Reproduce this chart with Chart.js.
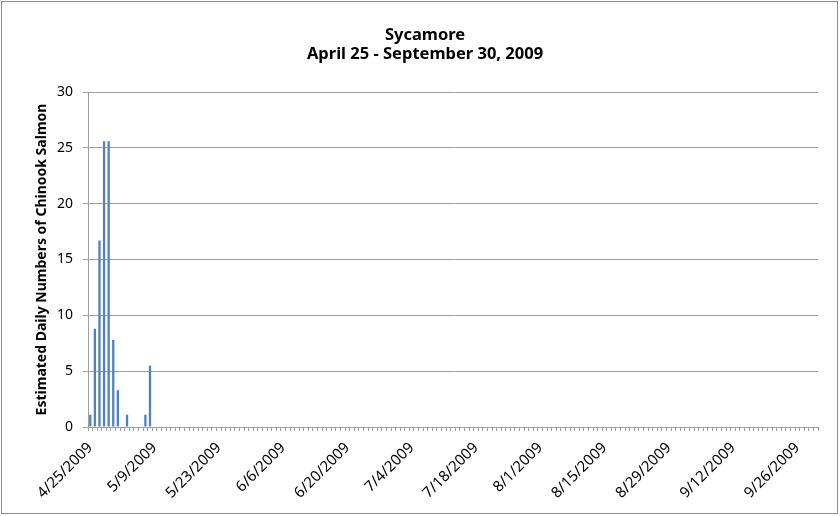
<!DOCTYPE html>
<html>
<head>
<meta charset="utf-8">
<script src="https://cdn.jsdelivr.net/npm/chart.js@4"></script>
<style>
    html, body { margin: 0; padding: 0; background: #fff; }
    #wrap { width: 840px; height: 516px; position: relative; }
</style>
</head>
<body>
<div id="wrap"><canvas id="chart" width="840" height="516"></canvas></div>
<script>
// ─── Данные ────────────────────────────────────────────────────────────────

const START_DATE = [2009, 3, 25];   // 4/25/2009
const DAY_COUNT = 159;              // до 9/30/2009 включительно

const shownTicks = [
    "4/25/2009", "5/9/2009", "5/23/2009", "6/6/2009", "6/20/2009", "7/4/2009",
    "7/18/2009", "8/1/2009", "8/15/2009", "8/29/2009", "9/12/2009", "9/26/2009",
];

// оценка по картинке, по дням начиная с 4/25
const chinookDaily = [
    1.1, 8.8, 16.7, 25.6, 25.6, 7.8, 3.3, 0, 1.1, 0, 0, 0, 1.1, 5.5,
    0, 0, 0, 0, 0, 0, 0, 0, 0, 0, 0, 0, 0, 0, 0, 0, 0, 0, 0, 0, 0, 0, 0, 0, 0, 0,
    0, 0, 0, 0, 0, 0, 0, 0, 0, 0, 0, 0, 0, 0, 0, 0, 0, 0, 0, 0, 0, 0, 0, 0, 0, 0,
    0, 0, 0, 0, 0, 0, 0, 0, 0, 0, 0, 0, 0, 0, 0, 0, 0, 0, 0, 0, 0, 0, 0, 0, 0, 0,
    0, 0, 0, 0, 0, 0, 0, 0, 0, 0, 0, 0, 0, 0, 0, 0, 0, 0, 0, 0, 0, 0, 0, 0, 0, 0,
    0, 0, 0, 0, 0, 0, 0, 0, 0, 0, 0, 0, 0, 0, 0, 0, 0, 0, 0, 0, 0, 0, 0, 0, 0, 0,
    0, 0, 0, 0, 0, 0, 0, 0, 0, 0, 0, 0, 0, 0, 0, 0, 0, 0, 0, 0, 0, 0, 0, 0, 0, 0,
    0, 0, 0, 0, 0, 0, 0, 0, 0, 0, 0, 0, 0, 0, 0, 0, 0, 0, 0, 0, 0, 0, 0, 0, 0, 0,
    0, 0, 0, 0, 0,
];

const titleLines = ["Sycamore", "April 25 - September 30, 2009"];
const yTitle = "Estimated Daily Numbers of Chinook Salmon";

// категории — все дни подряд
const dayLabels = [];
for (let i = 0; i < DAY_COUNT; i++) {
    const d = new Date(START_DATE[0], START_DATE[1], START_DATE[2] + i);
    dayLabels.push(`${d.getMonth() + 1}/${d.getDate()}/${d.getFullYear()}`);
}

// ─── Оформление ────────────────────────────────────────────────────────────

const FONT = "'Noto Sans', 'Liberation Sans', sans-serif";
const GRID = "#a0a0a0";

// рамка всей диаграммы + двухстрочный заголовок
const frameAndTitle = {
    id: "frameAndTitle",
    afterDraw(chart) {
        const ctx = chart.ctx;
        ctx.save();
        ctx.strokeStyle = "#8c8c8c";
        ctx.lineWidth = 1;
        ctx.strokeRect(1.5, 1.5, 836, 512);

        ctx.fillStyle = "#000";
        ctx.font = `bold 16.5px ${FONT}`;
        ctx.textAlign = "center";
        ctx.textBaseline = "middle";
        ctx.fillText(titleLines[0], 425, 35);
        ctx.fillText(titleLines[1], 425, 54);
        ctx.restore();
    },
};

new Chart(document.getElementById("chart"), {
    type: "bar",
    data: {
        labels: dayLabels,
        datasets: [{
            data: chinookDaily,
            backgroundColor: "#4f81bd",
            borderWidth: 0,
            barPercentage: 0.5,
            categoryPercentage: 1,
        }],
    },
    options: {
        responsive: false,
        animation: false,
        layout: {padding: {left: 10, right: 22, top: 92, bottom: 0}},
        plugins: {
            legend: {display: false},
            tooltip: {enabled: false},
        },
        scales: {
            x: {
                offset: true,
                grid: {
                    offset: true,
                    drawOnChartArea: false,
                    drawTicks: true,
                    tickLength: 4,
                    color: GRID,
                },
                border: {color: GRID, width: 1},
                ticks: {
                    autoSkip: false,
                    minRotation: 45,
                    maxRotation: 45,
                    padding: 8,
                    color: "#000",
                    font: {family: FONT, size: 15},
                    callback(value, index) {
                        const lbl = dayLabels[index];
                        return shownTicks.includes(lbl) ? lbl : "";
                    },
                },
                afterFit(scale) { scale.height = 89; },
            },
            y: {
                min: 0,
                max: 30,
                ticks: {
                    stepSize: 5,
                    padding: 10,
                    color: "#000",
                    font: {family: FONT, size: 14},
                },
                grid: {color: GRID, tickLength: 5, lineWidth: 1},
                border: {color: GRID, width: 1},
                title: {
                    display: true,
                    text: yTitle,
                    color: "#000",
                    font: {family: FONT, size: 14, weight: "bold"},
                    padding: {top: 24, bottom: 0},
                },
                afterFit(scale) { scale.width = 78; },
            },
        },
    },
    plugins: [frameAndTitle],
});
</script>
</body>
</html>
